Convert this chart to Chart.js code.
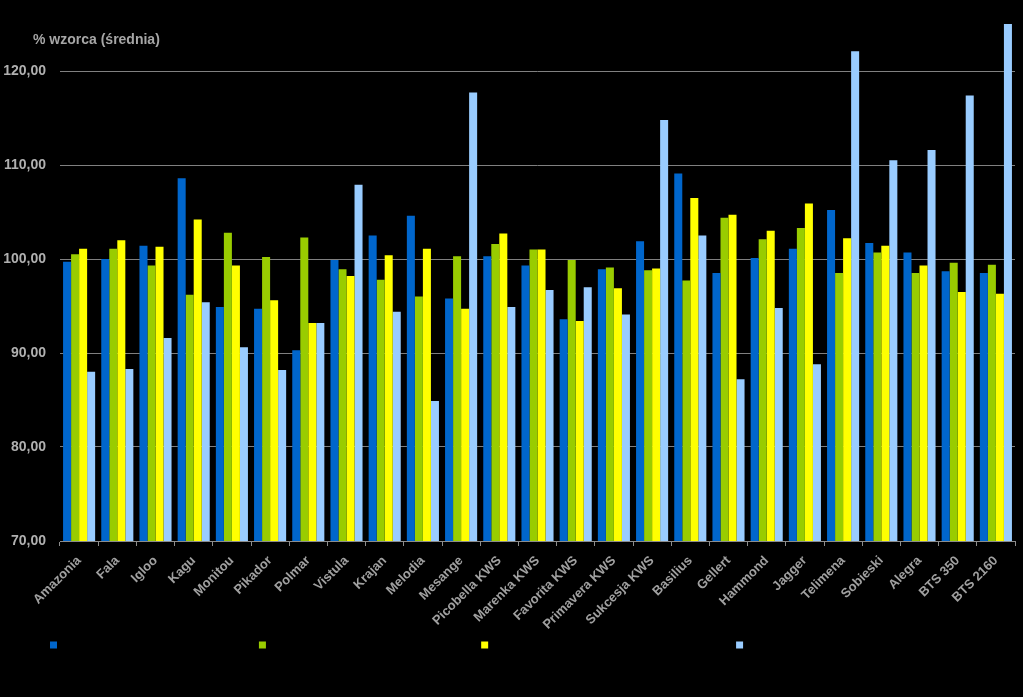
<!DOCTYPE html>
<html lang="pl">
<head>
<meta charset="utf-8">
<title>% wzorca (średnia)</title>
<script src="https://cdn.jsdelivr.net/npm/chart.js@4"></script>
<style>
  html, body { margin: 0; padding: 0; background: #000; }
  canvas { display: block; }
</style>
</head>
<body>
<canvas id="wykres" width="1023" height="697"></canvas>
<script>
// dane
const odmiany = ["Amazonia", "Fala", "Igloo", "Kagu", "Monitou", "Pikador", "Polmar", "Vistula", "Krajan", "Melodia",
  "Mesange", "Picobella KWS", "Marenka KWS", "Favorita KWS", "Primavera KWS", "Sukcesja KWS", "Basilius", "Gellert",
  "Hammond", "Jagger", "Telimena", "Sobieski", "Alegra", "BTS 350", "BTS 2160"];

const seria1 = [99.7, 100.0, 101.4, 108.6, 94.9, 94.7, 90.3, 99.9, 102.5, 104.6, 95.8, 100.3, 99.3, 93.6, 98.9, 101.9, 109.1, 98.5, 100.1, 101.1, 105.2, 101.7, 100.7, 98.7, 98.5];
const seria2 = [100.5, 101.1, 99.3, 96.2, 102.8, 100.2, 102.3, 98.9, 97.8, 96.0, 100.3, 101.6, 101.0, 99.9, 99.1, 98.8, 97.7, 104.4, 102.1, 103.3, 98.5, 100.7, 98.5, 99.6, 99.4];
const seria3 = [101.1, 102.0, 101.3, 104.2, 99.3, 95.6, 93.2, 98.2, 100.4, 101.1, 94.7, 102.7, 101.0, 93.4, 96.9, 99.0, 106.5, 104.7, 103.0, 105.9, 102.2, 101.4, 99.3, 96.5, 96.3];
const seria4 = [88.0, 88.3, 91.6, 95.4, 90.6, 88.2, 93.2, 107.9, 94.4, 84.9, 117.7, 94.9, 96.7, 97.0, 94.1, 114.8, 102.5, 87.2, 94.8, 88.8, 122.1, 110.5, 111.6, 117.4, 125.0];

// opisy serii (w oryginale czarne na czarnym tle)
const nazwySerii = ["Plon ziarna – poziom a1 (2009–11)", "Plon ziarna – poziom a2 (2009–2011)", "Masa 1000 ziaren – poziom a1 (2009-2011)", "Gęstość ziarna – poziom a1 (2009–11) r."];
const kolory = ["#0066cc", "#99cc00", "#ffff00", "#99ccff"];
const podzialkaY = [70, 80, 90, 100, 110, 120];
const tytulOsi = "% wzorca (średnia)";

Chart.defaults.font.family = '"Liberation Sans", Arial, sans-serif';

//napis nad osia Y
const tytulPlugin = {
  id: 'tytul',
  afterDraw(chart) {
    const ctx = chart.ctx;
    ctx.save();
    ctx.font = 'bold 14px "Liberation Sans", Arial, sans-serif';
    ctx.fillStyle = '#a6a6a6';
    ctx.textBaseline = 'middle';
    ctx.fillText(tytulOsi, 33, 40);
    ctx.restore();
  }
};

const config = {
  type: 'bar',
  data: {
    labels: odmiany,
    datasets: [seria1, seria2, seria3, seria4].map((d, i) => ({
      label: nazwySerii[i],
      data: d,
      backgroundColor: kolory[i],
      borderWidth: 0,
      categoryPercentage: 0.84,
      barPercentage: 1.0
    }))
  },
  options: {
    responsive: false,
    animation: false,
    layout: { padding: { top: 24, right: 8, bottom: 36, left: 0 } },
    plugins: {
      tooltip: { enabled: false },
      legend: {
        position: 'bottom',
        align: 'center',
        labels: {
          boxWidth: 7,
          boxHeight: 7,
          padding: 10,
          color: '#000',
          font: { size: 12 }
        }
      }
    },
    scales: {
      x: {
        afterFit(scale) { scale.height = 88; },
        grid: { display: true, offset: true, drawOnChartArea: false, drawTicks: true, tickLength: 5, color: '#8c8c8c' },
        border: { display: true, color: '#8c8c8c', width: 1 },
        ticks: {
          autoSkip: false,
          minRotation: 45,
          maxRotation: 45,
          padding: 7,
          color: '#a0a0a0',
          font: { size: 13, weight: 'bold' }
        }
      },
      y: {
        min: 70,
        max: 125,
        afterFit(scale) { scale.width = 60; },
        afterBuildTicks(scale) { scale.ticks = podzialkaY.map(v => ({ value: v })); },
        grid: { color: '#808080', lineWidth: 1, drawTicks: false },
        border: { display: false },
        ticks: {
          padding: 14,
          color: '#b0b0b0',
          font: { size: 14, weight: 'bold' },
          callback: v => v.toFixed(2).replace('.', ',')
        }
      }
    }
  },
  plugins: [tytulPlugin]
};

var wykres = new Chart(document.getElementById('wykres'), config);
</script>
</body>
</html>
